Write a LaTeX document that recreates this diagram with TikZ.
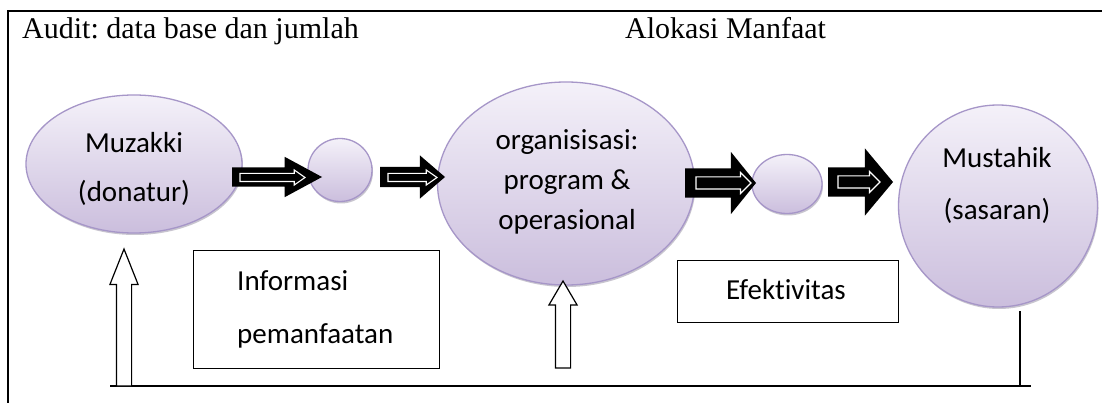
\documentclass[tikz,border=0pt]{standalone}
\usepackage{fontspec}
\setmainfont{Liberation Serif}
\newfontfamily\calfont[Ligatures={NoCommon,NoContextual}]{Carlito}
\usetikzlibrary{shapes.geometric,shapes.arrows,shadows}
\definecolor{lavtop}{RGB}{244,241,249}
\definecolor{lavbot}{RGB}{203,190,221}
\definecolor{lavline}{RGB}{166,150,200}
\frenchspacing
\begin{document}
\begin{tikzpicture}[x=1pt,y=-1pt,
  oval/.style={ellipse, draw=lavline, line width=1.3pt, top color=lavtop, bottom color=lavbot,
    inner sep=0pt, drop shadow={shadow xshift=1pt, shadow yshift=-2pt, fill=lavline!60!black, opacity=0.35}},
  txt/.style={font=\calfont\fontsize{29}{49}\selectfont, align=center, inner sep=0pt, anchor=base},
  title/.style={font=\fontsize{30}{36}\selectfont, inner sep=0pt, anchor=base west},
  boxstyle/.style={draw=black, line width=1.2pt, inner sep=0pt, anchor=north west},
  fatarrow/.style={single arrow, fill=black, inner sep=0pt, outer sep=0pt, text depth=0pt, anchor=tail},
  thinarrow/.style={single arrow, fill=black, draw=white, line width=1.1pt, inner sep=0pt, outer sep=0pt, text depth=0pt, anchor=tail},
  hollowup/.style={single arrow, draw=black, fill=white, line width=1.2pt, inner sep=0pt, outer sep=0pt, text depth=0pt, rotate=90, anchor=tail},
  frameline/.style={line width=2pt},
  baseline/.style={line width=1.5pt}]
\useasboundingbox (0,0) rectangle (1102,403);
\fill[white] (0,0) rectangle (1102,403);

% frame
\coordinate (ftr) at (1110,11);
\coordinate (ftl) at (8,11);
\coordinate (fbl) at (8,410);
\draw[frameline] (ftr) -- (ftl) -- (fbl);

% titles
\node[title] (audit) at (22,39) {Audit: data base dan jumlah};
\node[title] (alok) at (625,39) {Alokasi Manfaat};

% ellipses
\node[oval, minimum width=216pt, minimum height=138pt] (mz) at (134,164) {};
\node[oval, minimum width=64pt, minimum height=63pt] (s1) at (340,170) {};
\node[oval, minimum width=257pt, minimum height=203pt] (org) at (566,183.5) {};
\node[oval, minimum width=70pt, minimum height=59pt] (s2) at (787,184) {};
\node[oval, minimum width=199pt, minimum height=202pt] (mu) at (998,206) {};

% texts in ellipses (anchored at the baseline of the last line)
\node[txt] (mzt) at (134,202) {Muzakki\\(donatur)};
\node[txt, font=\calfont\fontsize{29}{40}\selectfont] (orgt) at (567,230) {organisisasi:\\program \&\\operasional};
\node[txt, font=\calfont\fontsize{29}{52}\selectfont] (mut) at (997,220) {Mustahik\\(sasaran)};

% black block arrows
\node[fatarrow, minimum height=90pt, minimum width=40pt, text height=19pt,
  single arrow head extend=10.5pt, single arrow tip angle=56.8] (a1) at (232,177) {};
\node[fatarrow, minimum height=65pt, minimum width=43pt, text height=20pt,
  single arrow head extend=11.5pt, single arrow tip angle=81.4] (a2) at (380,177) {};
\node[fatarrow, minimum height=71pt, minimum width=62pt, text height=29pt,
  single arrow head extend=16.5pt, single arrow tip angle=102.2] (a3) at (685,183) {};
\node[fatarrow, minimum height=65pt, minimum width=67pt, text height=29pt,
  single arrow head extend=19pt, single arrow tip angle=100.2] (a4) at (828,182) {};

% inner white-outlined arrows
\node[thinarrow, minimum height=65pt, minimum width=14pt, text height=7pt,
  single arrow head extend=3.5pt, single arrow tip angle=70] (i1) at (240,177.5) {};
\node[thinarrow, minimum height=49pt, minimum width=14pt, text height=7pt,
  single arrow head extend=3.5pt, single arrow tip angle=70] (i2) at (388,177.5) {};
\node[thinarrow, minimum height=55pt, minimum width=20pt, text height=11pt,
  single arrow head extend=4.5pt, single arrow tip angle=90] (i3) at (696,183) {};
\node[thinarrow, minimum height=42pt, minimum width=20pt, text height=11pt,
  single arrow head extend=4.5pt, single arrow tip angle=90] (i4) at (838,182) {};

% boxes
\node[boxstyle, minimum width=246pt, minimum height=118pt] (info) at (193,250) {};
\node[boxstyle, minimum width=221pt, minimum height=62pt] (eff) at (677,260) {};
\node[txt, align=left, anchor=base west, font=\calfont\fontsize{29}{53}\selectfont] (inft) at (237,343) {Informasi\\pemanfaatan};
\node[txt] (efft) at (786,299) {Efektivitas};

% bottom feedback line
\coordinate (bl) at (110,386);
\coordinate (br) at (1031,386);
\coordinate (rvt) at (1020,311);
\coordinate (rvb) at (1020,386);
\draw[baseline] (bl) -- (br);
\draw[line width=1.2pt] (rvt) -- (rvb);

% hollow up arrows
\node[hollowup, minimum height=137pt, minimum width=27pt, text height=14pt,
  single arrow head extend=6.5pt, single arrow tip angle=43.3] (u1) at (124,386) {};
\node[hollowup, minimum height=87pt, minimum width=27pt, text height=14pt,
  single arrow head extend=6.5pt, single arrow tip angle=60.8] (u2) at (563,368) {};
\end{tikzpicture}
\end{document}
